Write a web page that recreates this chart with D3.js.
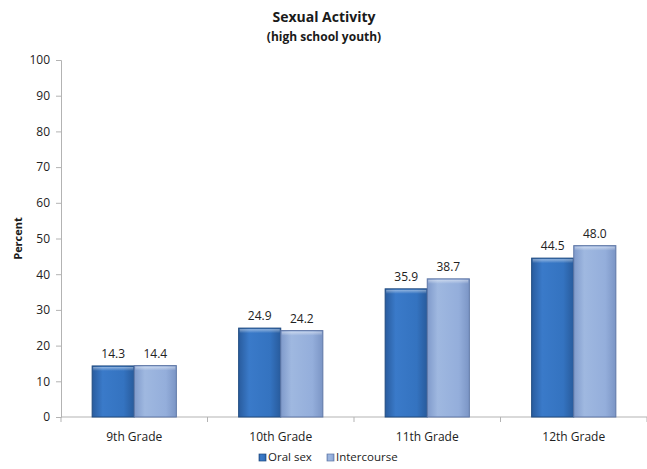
<!DOCTYPE html>
<html>
<head>
<meta charset="utf-8">
<script src="https://cdn.jsdelivr.net/npm/d3@7"></script>
<style>
  html, body { margin: 0; padding: 0; background: #fff; }
  svg { display: block; font-family: "Open Sans", "Liberation Sans", sans-serif; }
</style>
</head>
<body>
<svg id="chart" width="647" height="469"></svg>
<script>
const grades = ["9th Grade", "10th Grade", "11th Grade", "12th Grade"];
const seriesNames = ["Oral sex", "Intercourse"];
const oralSex = [14.3, 24.9, 35.9, 44.5];
const intercourse = [14.4, 24.2, 38.7, 48.0];
const yTicks = [0, 10, 20, 30, 40, 50, 60, 70, 80, 90, 100];

const seriesValues = [oralSex, intercourse];
const rows = grades.map((g, i) => ({ grade: g, values: seriesValues.map((s, k) => ({ key: seriesNames[k], k, v: s[i] })) }));

const svg = d3.select("#chart");
const margin = { left: 61, right: 0, top: 60, bottom: 52 };
const W = 647, H = 469;

const x0 = d3.scaleBand().domain(grades).range([margin.left, W - margin.right]).paddingInner(0).paddingOuter(0);
const x1 = d3.scaleBand().domain(seriesNames).range([0, x0.bandwidth()]).paddingInner(0).paddingOuter(0.74);
const y = d3.scaleLinear().domain([0, 100]).range([H - margin.bottom, margin.top]);

const defs = svg.append("defs");
const palettes = [
  { id: "g0", stops: ["#295c9e", "#3a7ac9", "#3473c0", "#285b9c"], stroke: "#1f4a80" },
  { id: "g1", stops: ["#7f9acb", "#9fb8e0", "#94aedb", "#7b95c5"], stroke: "#5f77a6" }
];
palettes.forEach(p => {
  const g = defs.append("linearGradient").attr("id", p.id).attr("x1", "0").attr("x2", "1").attr("y1", "0").attr("y2", "0");
  [0, 0.25, 0.75, 1].forEach((o, i) => g.append("stop").attr("offset", o).attr("stop-color", p.stops[i]));
});
const topShade = defs.append("linearGradient").attr("id", "topShade").attr("x1", 0).attr("x2", 0).attr("y1", 0).attr("y2", 1);
topShade.append("stop").attr("offset", 0).attr("stop-color", "#fff").attr("stop-opacity", 0.45);
topShade.append("stop").attr("offset", 1).attr("stop-color", "#fff").attr("stop-opacity", 0);

// Title
svg.append("text").attr("x", 324).attr("y", 22).attr("text-anchor", "middle")
  .attr("font-size", 14).attr("font-weight", "bold").attr("fill", "#1a1a1a").text("Sexual Activity");
svg.append("text").attr("x", 324).attr("y", 41).attr("text-anchor", "middle")
  .attr("font-size", 12).attr("font-weight", "bold").attr("fill", "#1a1a1a").text("(high school youth)");

// Y axis
const yAxis = svg.append("g").attr("transform", `translate(${margin.left},0)`)
  .call(d3.axisLeft(y).tickValues(yTicks).tickSize(5).tickPadding(6));
yAxis.select(".domain").attr("stroke", "#b3b3b3");
yAxis.selectAll(".tick line").attr("stroke", "#b3b3b3");
yAxis.selectAll(".tick text").attr("font-size", 12).attr("fill", "#222").attr("font-family", "Open Sans, sans-serif");

svg.append("text").attr("transform", `translate(22,${y(50)}) rotate(-90)`).attr("text-anchor", "middle")
  .attr("font-size", 11).attr("font-weight", "bold").attr("fill", "#1a1a1a").text("Percent");

// X axis
const xAxisG = svg.append("g").attr("transform", `translate(0,${y(0)})`);
xAxisG.append("line").attr("x1", margin.left).attr("x2", W).attr("stroke", "#b3b3b3");
const bounds = d3.range(grades.length + 1).map(i => margin.left + i * x0.bandwidth());
xAxisG.selectAll(".bt").data(bounds).join("line").attr("class", "bt")
  .attr("x1", d => d).attr("x2", d => d).attr("y1", 0).attr("y2", 5).attr("stroke", "#b3b3b3");
xAxisG.selectAll(".lbl").data(grades).join("text").attr("class", "lbl")
  .attr("x", d => x0(d) + x0.bandwidth() / 2).attr("y", 24).attr("text-anchor", "middle")
  .attr("font-size", 12).attr("fill", "#222").text(d => d);

// Bars
const groups = svg.append("g").selectAll("g").data(rows).join("g")
  .attr("transform", d => `translate(${x0(d.grade)},0)`);
groups.selectAll("rect.bar").data(d => d.values).join("rect").attr("class", "bar")
  .attr("x", d => x1(d.key)).attr("width", x1.bandwidth())
  .attr("y", d => y(d.v)).attr("height", d => y(0) - y(d.v))
  .attr("fill", d => `url(#g${d.k})`).attr("stroke", d => palettes[d.k].stroke).attr("stroke-width", 1);
groups.selectAll("rect.shine").data(d => d.values).join("rect").attr("class", "shine")
  .attr("x", d => x1(d.key) + 1).attr("width", x1.bandwidth() - 2)
  .attr("y", d => y(d.v) + 1).attr("height", 4).attr("fill", "url(#topShade)");
groups.selectAll("text.val").data(d => d.values).join("text").attr("class", "val")
  .attr("x", d => x1(d.key) + x1.bandwidth() / 2).attr("y", d => y(d.v) - 8)
  .attr("text-anchor", "middle").attr("font-size", 12).attr("fill", "#222")
  .text(d => d.v.toFixed(1));

// Legend
const legend = svg.append("g").attr("transform", "translate(0,460)");
const legendX = [259, 327];
seriesNames.forEach((n, k) => {
  legend.append("rect").attr("x", legendX[k]).attr("y", -6).attr("width", 7).attr("height", 7)
    .attr("fill", `url(#g${k})`).attr("stroke", palettes[k].stroke).attr("stroke-width", 0.7);
  legend.append("text").attr("x", legendX[k] + 9).attr("y", 1).attr("font-size", 11.5).attr("fill", "#222").text(n);
});
</script>
</body>
</html>
